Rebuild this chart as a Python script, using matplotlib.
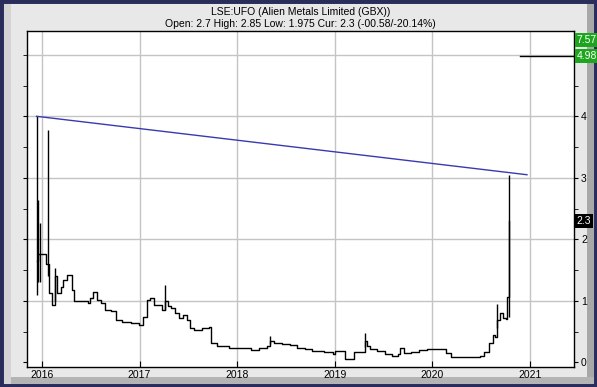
import matplotlib
matplotlib.use("Agg")
import matplotlib.pyplot as plt
from matplotlib.patches import Rectangle

plt.rcParams['font.family'] = ['Liberation Sans', 'DejaVu Sans']

# close price (decimal years)
dates = [2015.945, 2015.961, 2015.980, 2016.039, 2016.059, 2016.070, 2016.101, 2016.129,
         2016.156, 2016.195, 2016.215, 2016.254, 2016.281, 2016.304, 2016.332, 2016.371,
         2016.468, 2016.488, 2016.527, 2016.566, 2016.605, 2016.644, 2016.703, 2016.761,
         2016.820, 2016.917, 2016.995, 2017.034, 2017.073, 2017.112, 2017.151, 2017.229,
         2017.257, 2017.288, 2017.327, 2017.366, 2017.405, 2017.444, 2017.483, 2017.522,
         2017.561, 2017.639, 2017.717, 2017.737, 2017.795, 2017.913, 2018.069, 2018.147,
         2018.225, 2018.303, 2018.342, 2018.381, 2018.459, 2018.537, 2018.615, 2018.693,
         2018.771, 2018.888, 2018.986, 2019.005, 2019.103, 2019.104, 2019.162, 2019.193,
         2019.279, 2019.310, 2019.326, 2019.357, 2019.435, 2019.513, 2019.591, 2019.649,
         2019.669, 2019.708, 2019.786, 2019.864, 2019.942, 2020.020, 2020.098, 2020.137,
         2020.196, 2020.254, 2020.372, 2020.489, 2020.528, 2020.586, 2020.617, 2020.645,
         2020.664, 2020.692, 2020.723, 2020.754, 2020.770, 2020.781, 2020.789]
close = [1.64, 1.76, 1.76, 1.60, 1.60, 1.12, 0.93, 1.40,
         1.12, 1.23, 1.34, 1.42, 1.42, 1.18, 0.99, 0.99,
         0.97, 1.04, 1.15, 1.01, 0.96, 0.85, 0.84, 0.69,
         0.65, 0.64, 0.61, 0.74, 1.01, 1.04, 0.93, 0.85,
         1.00, 0.91, 0.88, 0.80, 0.72, 0.77, 0.69, 0.55,
         0.53, 0.56, 0.58, 0.31, 0.26, 0.23, 0.24, 0.20,
         0.23, 0.26, 0.34, 0.32, 0.30, 0.28, 0.23, 0.21,
         0.19, 0.16, 0.14, 0.18, 0.19, 0.05, 0.06, 0.17,
         0.17, 0.35, 0.26, 0.22, 0.18, 0.14, 0.10, 0.14,
         0.23, 0.15, 0.16, 0.20, 0.21, 0.21, 0.22, 0.15,
         0.09, 0.08, 0.09, 0.10, 0.17, 0.31, 0.44, 0.41,
         0.69, 0.80, 0.72, 0.70, 1.07, 1.99, 2.30]

# high/low bars for the spikes
spike_dates = [2015.945, 2015.961, 2015.980, 2016.059, 2016.129, 2017.257,
               2018.342, 2019.310, 2020.668, 2020.789]
spike_low = [1.10, 1.30, 1.30, 1.40, 1.00, 0.85, 0.30, 0.25, 0.55, 0.73]
spike_high = [4.00, 2.64, 2.26, 3.77, 1.53, 1.26, 0.43, 0.47, 0.95, 3.05]

trend_x = [2015.945, 2020.97]
trend_y = [4.00, 3.05]
target_x = [2020.90, 2021.46]
target_y = [4.98, 4.98]

fig = plt.figure(figsize=(5.97, 3.87), dpi=100)
fig.patch.set_facecolor('#e8e8e8')

# bevel frame, behind the axes
fig.patches.append(Rectangle((0.983, 0.0), 0.017, 1.0, transform=fig.transFigure,
                             facecolor='#a8a8a8', edgecolor='none', zorder=-2))
fig.patches.append(Rectangle((0.0, 0.0), 1.0, 0.025, transform=fig.transFigure,
                             facecolor='#b4b4b4', edgecolor='none', zorder=-2))
fig.patches.append(Rectangle((0.0, 0.0), 0.018, 1.0, transform=fig.transFigure,
                             facecolor='#d4d4d4', edgecolor='none', zorder=-2))
fig.patches.append(Rectangle((0, 0), 1, 1, transform=fig.transFigure, fill=False,
                             edgecolor='#2a2c5c', linewidth=5, zorder=-1))

ax = fig.add_axes([0.0452, 0.0517, 0.9163, 0.8682])
ax.set_xlim(2015.847, 2021.452)
ax.set_ylim(-0.076, 5.387)

ax.plot(dates, close, color='black', lw=1.0, drawstyle='steps-post', zorder=3)
ax.vlines(spike_dates, spike_low, spike_high, color='black', lw=1.0, zorder=3)
ax.plot(trend_x, trend_y, color='#3a3ab0', lw=1.0, zorder=4)
ax.plot(target_x, target_y, color='black', lw=1.0, zorder=4, clip_on=False)

years = [2016, 2017, 2018, 2019, 2020, 2021]
for yr in years:
    ax.axvline(yr, color='#c4c4c4', lw=1.0, zorder=1)
for v in [1, 2, 3, 4, 5]:
    ax.axhline(v, color='#c4c4c4', lw=1.0, zorder=1)

ax.set_xticks(years)
ax.set_xticklabels([str(y) for y in years])
ax.tick_params(axis='x', direction='in', length=4, labelsize=7.5, pad=2)

ax.yaxis.tick_right()
ax.set_yticks([0, 1, 2, 3, 4])
ax.set_yticklabels(['0', '1', '2', '3', '4'])
ax.set_yticks([0.5, 1.5, 2.5, 3.5, 4.5, 5.0], minor=True)
ax.tick_params(axis='y', which='both', direction='out', length=3, labelsize=7.5,
               left=True, right=True, pad=2)

for s in ax.spines.values():
    s.set_color('black')
    s.set_linewidth(1.0)

# right-hand value boxes
def value_box(y, text, color):
    ax.text(1.005, y, text, transform=ax.get_yaxis_transform(), color='white',
            fontsize=7.5, va='center', ha='left', clip_on=False, zorder=10,
            bbox=dict(boxstyle='square,pad=0.2', facecolor=color, edgecolor='none'))

value_box(5.24, '7.57', '#1ea51e')
value_box(4.98, '4.98', '#1ea51e')
value_box(2.30, '2.3', '#000000')

fig.text(0.503, 0.970, 'LSE:UFO (Alien Metals Limited (GBX))', ha='center', va='center',
         fontsize=7.5)
fig.text(0.503, 0.937, 'Open: 2.7 High: 2.85 Low: 1.975 Cur: 2.3 (-00.58/-20.14%)',
         ha='center', va='center', fontsize=7.5)

fig.savefig('out.png', dpi=100, facecolor=fig.get_facecolor())
